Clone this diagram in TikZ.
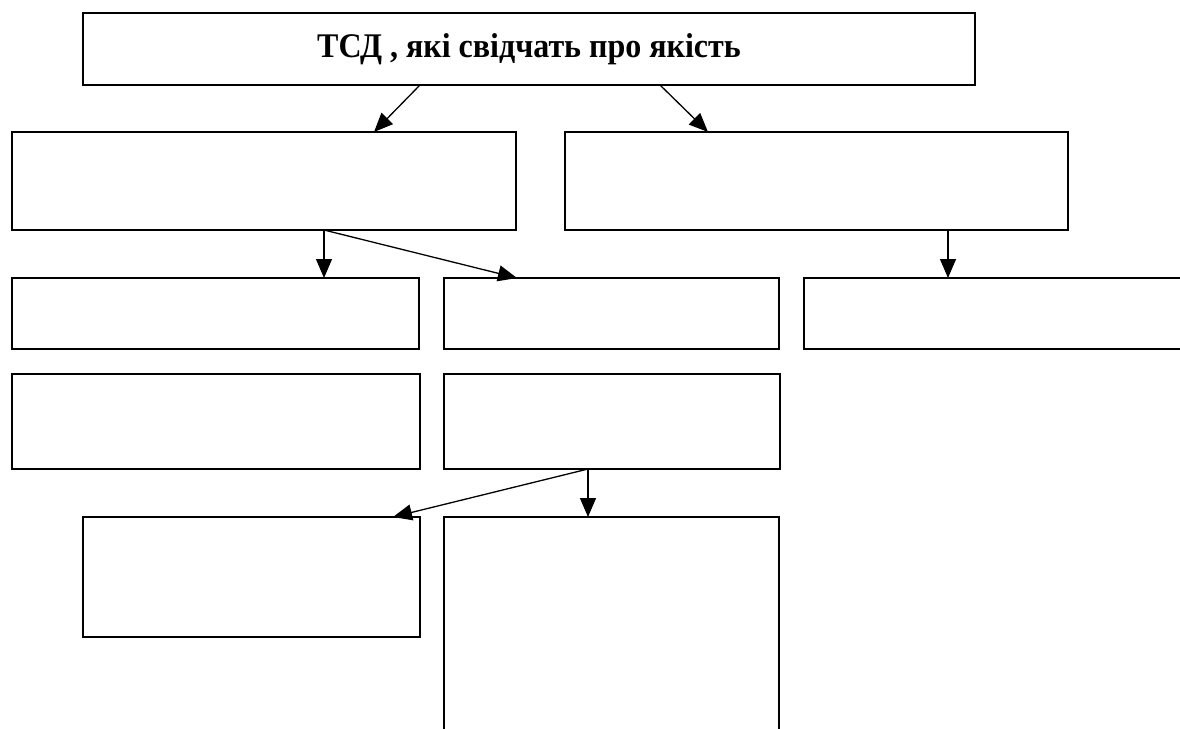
\documentclass[tikz,border=0pt]{standalone}
\usepackage{fontspec}
\setmainfont{Liberation Serif}
\usetikzlibrary{arrows.meta}
\begin{document}
\begin{tikzpicture}[x=1pt,y=-1pt,
  box/.style={draw=black,line width=1.3pt,inner sep=0pt,outer sep=0pt,fill=white},
  arr/.style={line width=1.3pt,-{Triangle[length=19pt,width=16pt]}}]
\useasboundingbox[fill=white] (0,0) rectangle (1180,728);
\node[box,minimum width=892pt,minimum height=72pt,font=\fontsize{32}{36}\selectfont\bfseries] (top) at (529,49) {\scalebox{1}[1.08]{ТСД , які свідчать про якість}};
\node[box,minimum width=504pt,minimum height=98pt] (l2) at (264,181) {};
\node[box,minimum width=503pt,minimum height=98pt] (r2) at (816.5,181) {};
\node[box,minimum width=407pt,minimum height=71pt] (a3) at (215.5,313.5) {};
\node[box,minimum width=335pt,minimum height=71pt] (b3) at (611.5,313.5) {};
\node[box,minimum width=400pt,minimum height=71pt] (c3) at (1004,313.5) {};
\node[box,minimum width=408pt,minimum height=95pt] (d4) at (216,421.5) {};
\node[box,minimum width=336pt,minimum height=95pt] (e4) at (612,421.5) {};
\node[box,minimum width=337pt,minimum height=120pt] (f5) at (251.5,577) {};
\node[box,minimum width=335pt,minimum height=260pt] (g5) at (611.5,647) {};
\draw[arr] (top.south -| 420,0) -- (l2.north -| 374,0);
\draw[arr] (top.south -| 660,0) -- (r2.north -| 708,0);
\coordinate (s2) at (l2.south -| 324,0);
\draw[arr] (s2) -- (a3.north -| 324,0);
\draw[arr] (s2) -- (b3.north -| 517,0);
\draw[arr] (r2.south -| 948,0) -- (c3.north -| 948,0);
\coordinate (s4) at (e4.south -| 588,0);
\draw[arr] (s4) -- (f5.north -| 393,0);
\draw[arr] (s4) -- (g5.north -| 588,0);
\end{tikzpicture}
\end{document}
